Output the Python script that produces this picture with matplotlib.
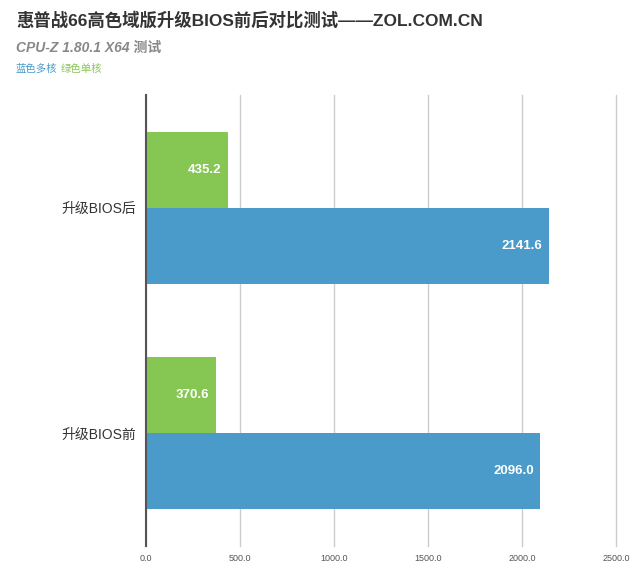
import matplotlib
matplotlib.use("Agg")
import matplotlib.pyplot as plt
import numpy as np

FAM = ['Liberation Sans', 'Noto Sans CJK SC', 'DejaVu Sans']
plt.rcParams['font.family'] = FAM

categories = ["升级BIOS前", "升级BIOS后"]
multi_core = [2096.0, 2141.6]
single_core = [370.6, 435.2]
xticks = [0, 500, 1000, 1500, 2000, 2500]

blue = "#4a9bc9"
green = "#86c754"

fig = plt.figure(figsize=(6.4, 5.71), dpi=100)
ax = fig.add_axes([146/640, 25/571, (616-146)/640, (546-95)/571])

y = np.arange(len(categories))
h = 0.338
ax.barh(y - h/2, multi_core, height=h, color=blue, zorder=3)
ax.barh(y + h/2, single_core, height=h, color=green, zorder=3)

for yi, v in zip(y - h/2, multi_core):
    ax.text(v - 34, yi, f"{v:.1f}", ha='right', va='center', color='white',
            fontsize=9.5, fontweight='bold', zorder=4)
for yi, v in zip(y + h/2, single_core):
    ax.text(v - 34, yi, f"{v:.1f}", ha='right', va='center', color='white',
            fontsize=9.5, fontweight='bold', zorder=4)

ax.set_xlim(0, 2500)
ax.set_ylim(-0.5, 1.5)
ax.set_xticks(xticks)
ax.set_xticklabels([f"{t:.1f}" for t in xticks], fontsize=6.5, color='#555555')
ax.set_yticks(y)
ax.set_yticklabels(categories, fontsize=10, color='#333333')
ax.tick_params(axis='y', length=0, pad=7)
ax.tick_params(axis='x', length=0, pad=6)
ax.grid(axis='x', color='#cccccc', linewidth=1, zorder=0)
for gl in ax.get_xgridlines():
    gl.set_clip_on(False)
for s in ['top', 'right', 'bottom']:
    ax.spines[s].set_visible(False)
ax.spines['left'].set_color('#555555')
ax.spines['left'].set_linewidth(1.5)
ax.spines['left'].set_zorder(5)

fig.text(16/640, 1 - 20/571, "惠普战66高色域版升级BIOS前后对比测试——ZOL.COM.CN",
         fontsize=12.5, fontweight='bold', color='#333333', va='center', ha='left')
fig.text(16/640, 1 - 48/571, "CPU-Z 1.80.1 X64 测试", fontsize=10, fontweight='bold',
         fontstyle='italic', color='#888888', va='center', ha='left')
fig.text(16/640, 1 - 69/571, "蓝色多核", fontsize=7.5, color=blue, va='center', ha='left')
fig.text(61/640, 1 - 69/571, "绿色单核", fontsize=7.5, color=green, va='center', ha='left')

fig.savefig("out.png", dpi=100)
